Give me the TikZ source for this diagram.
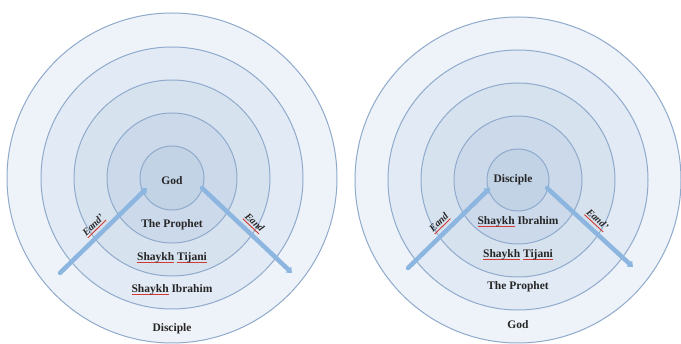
\documentclass[tikz,border=0pt]{standalone}
\usepackage{fontspec}
\setmainfont{Liberation Serif}
\usetikzlibrary{arrows.meta}
\definecolor{ringline}{HTML}{8FAACB}
\definecolor{ringA}{HTML}{EEF3FA}
\definecolor{ringB}{HTML}{E2EAF5}
\definecolor{ringC}{HTML}{D7E2EF}
\definecolor{ringD}{HTML}{CCD9EA}
\definecolor{ringE}{HTML}{C3D3E6}
\definecolor{flowblue}{HTML}{8CB6DF}
\definecolor{spellred}{HTML}{D23A32}
\definecolor{inktext}{HTML}{262626}
\newcommand\spell[1]{\begingroup\setbox0\hbox{#1}\rlap{\textcolor{spellred}{\rule[-2.6pt]{\wd0}{0.9pt}}}\box0\endgroup}
\tikzset{
  ring/.style={draw=ringline,line width=1pt},
  lbl/.style={text=inktext,font=\fontsize{11.5}{14}\selectfont\bfseries,inner sep=1pt},
  flow/.style={draw=flowblue,line width=4.5pt,line cap=round,-{Triangle[length=5pt,width=8pt]}},
  tag/.style={text=inktext,font=\fontsize{10}{12}\selectfont\bfseries\itshape,sloped,above,inner sep=3pt}
}
\begin{document}
\begin{tikzpicture}[x=1pt,y=-1pt]
\useasboundingbox (0,0) rectangle (681,344);
\fill[white] (0,0) rectangle (681,344);
% left diagram
\coordinate (lc) at (172,178);
\filldraw[ring,fill=ringA] (lc) circle (165);
\filldraw[ring,fill=ringB] (lc) circle (131);
\filldraw[ring,fill=ringC] (lc) circle (98);
\filldraw[ring,fill=ringD] (lc) circle (65);
\filldraw[ring,fill=ringE] (lc) circle (32);
\node[lbl] (lgod) at (172,181) {God};
\node[lbl] (lprophet) at (172,225) {The Prophet};
\node[lbl] (ltijani) at (172,258) {\spell{Shaykh} \spell{Tijani}};
\node[lbl] (librahim) at (172,290) {\spell{Shaykh} Ibrahim};
\node[lbl] (ldisciple) at (172,329) {Disciple};
\coordinate (la1) at (60,273);
\coordinate (la2) at (147,188);
\coordinate (lb1) at (202,188);
\coordinate (lb2) at (292,273);
\draw[flow] (la1) -- node[tag,pos=.47] (ltagA) {\spell{Eand'}} (la2);
\draw[flow] (lb1) -- node[tag,pos=.5] (ltagB) {\spell{Eand}} (lb2);
% right diagram
\coordinate (rc) at (518,180);
\filldraw[ring,fill=ringA] (rc) circle (163);
\filldraw[ring,fill=ringB] (rc) circle (130);
\filldraw[ring,fill=ringC] (rc) circle (97);
\filldraw[ring,fill=ringD] (rc) circle (64);
\filldraw[ring,fill=ringE] (rc) circle (31);
\node[lbl] (rdisciple) at (513,180) {Disciple};
\node[lbl] (ribrahim) at (518,222) {\spell{Shaykh} Ibrahim};
\node[lbl] (rtijani) at (518,255) {\spell{Shaykh} \spell{Tijani}};
\node[lbl] (rprophet) at (518,287) {The Prophet};
\node[lbl] (rgod) at (518,325) {God};
\coordinate (ra1) at (408,268);
\coordinate (ra2) at (490,188);
\coordinate (rb1) at (547,188);
\coordinate (rb2) at (633,267);
\draw[flow] (ra1) -- node[tag,pos=.47] (rtagA) {\spell{Eand}} (ra2);
\draw[flow] (rb1) -- node[tag,pos=.5] (rtagB) {\spell{Eand'}} (rb2);
\end{tikzpicture}
\end{document}
